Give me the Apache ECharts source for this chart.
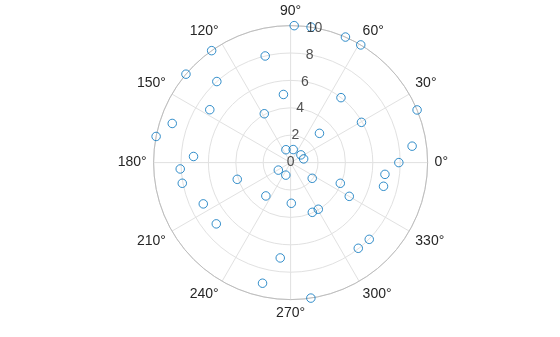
<!DOCTYPE html>
<html>
<head>
<meta charset="utf-8">
<script src="https://cdn.jsdelivr.net/npm/echarts@6/dist/echarts.min.js"></script>
<style>html,body{margin:0;padding:0;background:#fff;}#c{width:560px;height:337px;}</style>
</head>
<body>
<div id="c"></div>
<script>
// Data (theta in degrees, r)
var theta = [88.5, 81.4, 66.4, 59.2, 103.4, 125.2, 139.8, 132.3, 96, 52.2, 146.8, 118.3, 22.6, 29.6, 161.7, 45.4, 169, 7.7, 110, 78.7, 36.8, 15.9, 176.4, 0, 183.3, 211.5, 249, 352.9, 190.8, 345.7, 337.4, 324, 197.4, 330.1, 233.4, 205.3, 271, 300.7, 293.6, 219.5, 315.7, 308.3, 263.8, 256.9, 278.5];
var rho   = [10.0, 10.0, 10.0, 10.0, 8.0, 10.0, 10.0, 8.0, 5.0, 6.0, 7.05, 4.05, 10.0, 5.95, 9.1, 3.0, 10.0, 8.95, 1.0, 0.97, 0.94, 0.99, 7.1, 7.9, 8.07, 1.05, 0.98, 6.94, 8.05, 7.0, 3.93, 1.95, 4.08, 4.94, 3.03, 7.05, 2.97, 3.96, 3.96, 7.03, 8.02, 7.97, 7.0, 9.04, 10.0];
var rTicks = [0, 2, 4, 6, 8, 10];
var rLabelAngle = 80;

var pts = theta.map(function (t, i) { return [rho[i], t]; });
var rLabels = rTicks.map(function (v) { return [v, rLabelAngle]; });

var txt = '#262626';
var chart = echarts.init(document.getElementById('c'), null, {renderer: 'canvas'});
chart.setOption({
  animation: false,
  backgroundColor: '#ffffff',
  polar: { center: [290.6, 162.6], radius: 137 },
  angleAxis: {
    type: 'value', min: 0, max: 360, interval: 30, startAngle: 0, clockwise: false,
    axisLine: { show: true, lineStyle: { color: '#bdbdbd', width: 1 } },
    axisTick: { show: false },
    axisLabel: {
      show: true, margin: 7, color: txt, fontSize: 14, fontFamily: 'Liberation Sans, Arial, sans-serif',
      formatter: function (v) { return v === 360 ? '' : v + '°'; }
    },
    splitLine: { show: true, lineStyle: { color: '#e1e1e1', width: 1 } }
  },
  radiusAxis: {
    type: 'value', min: 0, max: 10, interval: 2,
    axisLine: { show: false }, axisTick: { show: false }, axisLabel: { show: false },
    splitLine: { show: true, lineStyle: { color: '#e1e1e1', width: 1 } }
  },
  series: [
    {
      type: 'scatter', coordinateSystem: 'polar', data: pts,
      symbol: 'circle', symbolSize: 8.5, clip: false,
      itemStyle: { color: 'rgba(0,0,0,0)', borderColor: '#0072BD', borderWidth: 1 },
      z: 3
    },
    {
      type: 'scatter', coordinateSystem: 'polar', data: rLabels,
      symbolSize: 0, silent: true, clip: false,
      label: {
        show: true, position: 'inside', color: txt, fontSize: 14,
        fontFamily: 'Liberation Sans, Arial, sans-serif',
        formatter: function (p) { return String(p.value[0]); }
      },
      z: 4
    }
  ]
});
</script>
</body>
</html>
